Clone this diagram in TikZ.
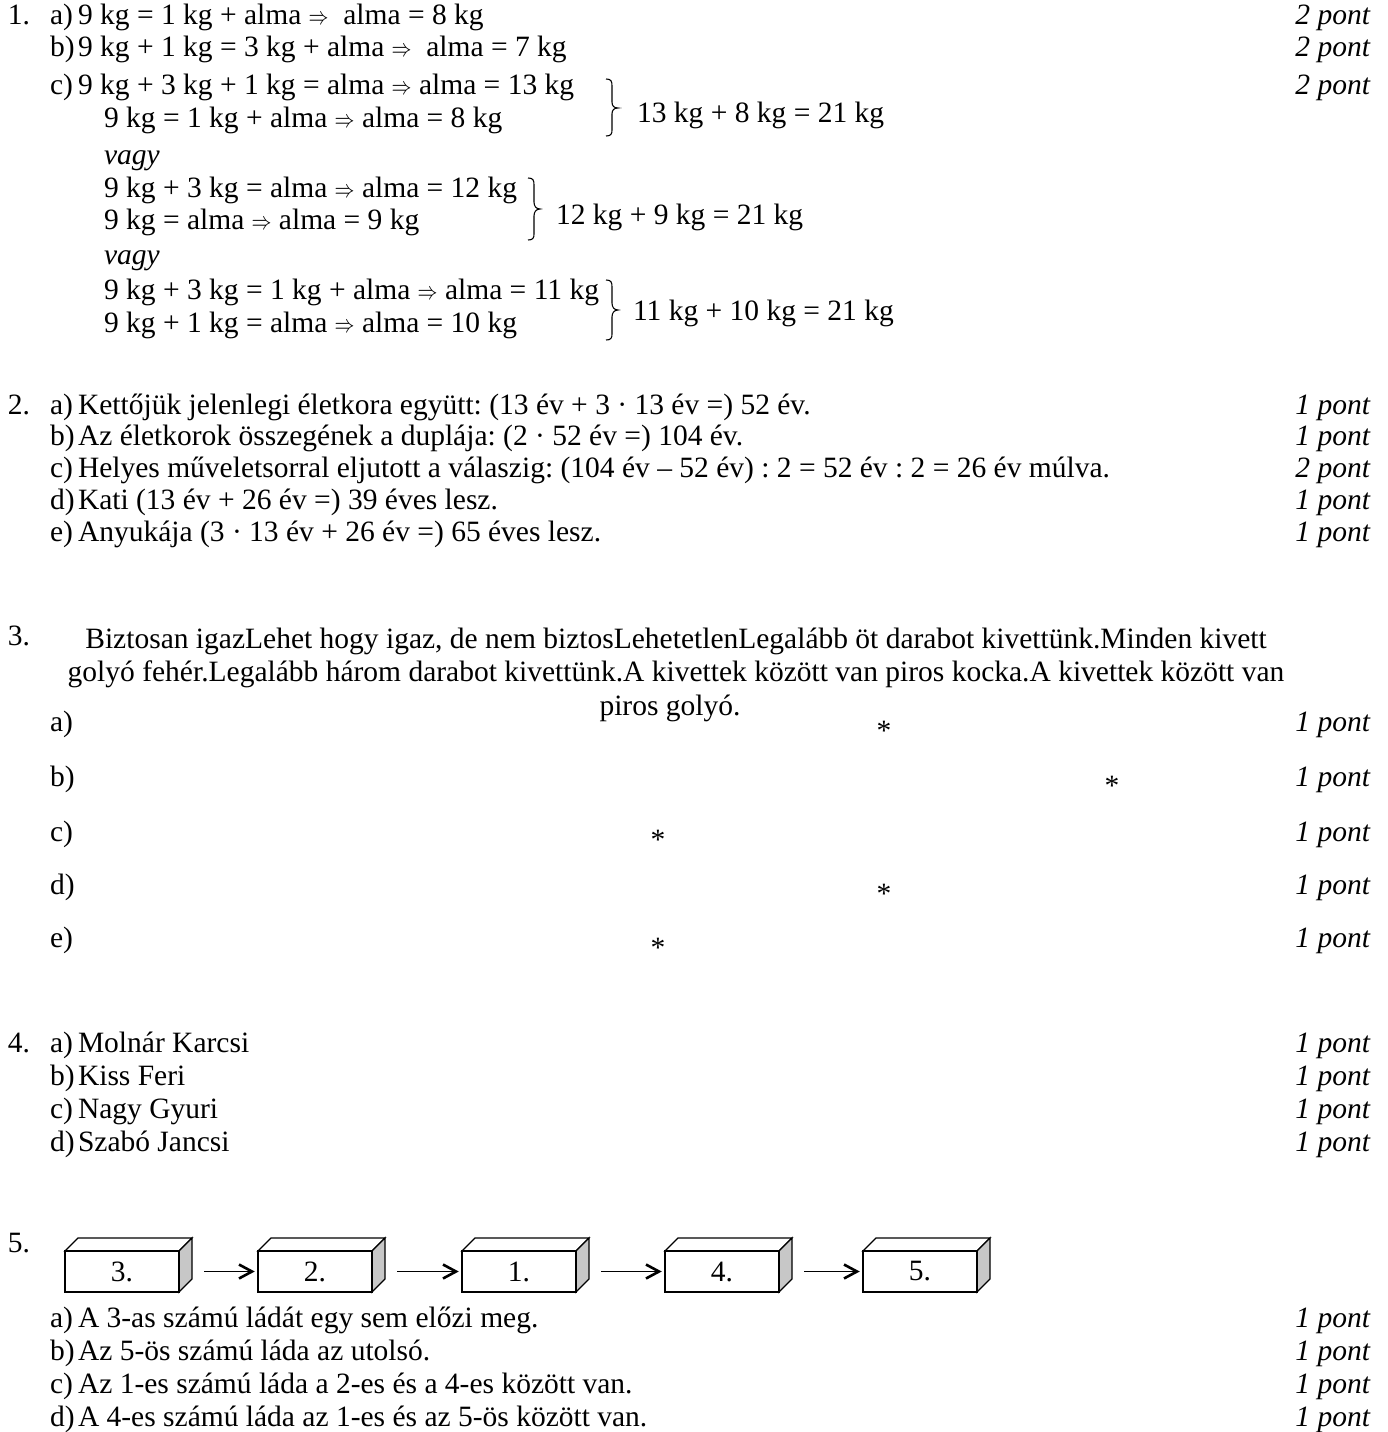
\documentclass[tikz,border=0pt]{standalone}
\usepackage{graphicx}
\usepackage{fontspec}
\setmainfont{Liberation Serif}
\frenchspacing
\begin{document}
\begin{tikzpicture}[x=1pt,y=-1pt,
  every node/.style={inner sep=0pt,outer sep=0pt,font=\fontsize{29.5}{34}\selectfont\frenchspacing},
  tx/.style={anchor=base west},
  ctx/.style={anchor=base},
  pt/.style={anchor=base east,font=\fontsize{29.5}{34}\selectfont\itshape},
  brc/.style={line width=1.1pt},
  boxfront/.style={draw,line width=1.3pt,fill=white},
  boxside/.style={draw,line width=1.3pt,fill=black!22},
  arr/.style={line width=1.3pt},
  arrhead/.style={line width=2.6pt,line join=miter,line cap=butt}
]
\useasboundingbox (0,0) rectangle (1388,1432);
\newcommand{\ra}{\scalebox{0.8}[1]{$\Rightarrow$}}
% ---------- 1 ----------
\node[tx] (n1) at (8,24) {1.};
\node[tx] (l1a) at (50,24) {a)};
\node[tx] (t1a) at (78,24) {9 kg = 1 kg + alma \ra\ \ alma = 8 kg};
\node[pt] (p1a) at (1370,24) {2 pont};
\node[tx] (l1b) at (50,56) {b)};
\node[tx] (t1b) at (78,56) {9 kg + 1 kg = 3 kg + alma \ra\ \ alma = 7 kg};
\node[pt] (p1b) at (1370,56) {2 pont};
\node[tx] (l1c) at (50,94) {c)};
\node[tx] (t1c) at (78,94) {9 kg + 3 kg + 1 kg = alma \ra\ alma = 13 kg};
\node[pt] (p1c) at (1370,94) {2 pont};
\node[tx] (t1c2) at (104,127) {9 kg = 1 kg + alma \ra\ alma = 8 kg};
\draw[brc] (606,79) .. controls (611,79) and (612,81) .. (612,86) -- (612,102) .. controls (612,106) and (614,108) .. (618,108) .. controls (614,108) and (612,110) .. (612,114) -- (612,130) .. controls (612,134) and (611,136) .. (606,136);
\node[tx] (s1) at (637,122) {13 kg + 8 kg = 21 kg};
\node[tx,font=\fontsize{29.5}{34}\selectfont\itshape] (v1) at (104,164) {vagy};
\node[tx] (t1d) at (104,197) {9 kg + 3 kg = alma \ra\ alma = 12 kg};
\node[tx] (t1e) at (104,229) {9 kg = alma \ra\ alma = 9 kg};
\draw[brc] (528,178) .. controls (533,178) and (534,180) .. (534,185) -- (534,202) .. controls (534,206) and (536,209) .. (540,209) .. controls (536,209) and (534,212) .. (534,216) -- (534,234) .. controls (534,238) and (533,240) .. (528,240);
\node[tx] (s2) at (556,224) {12 kg + 9 kg = 21 kg};
\node[tx,font=\fontsize{29.5}{34}\selectfont\itshape] (v2) at (104,264) {vagy};
\node[tx] (t1f) at (104,299) {9 kg + 3 kg = 1 kg + alma \ra\ alma = 11 kg};
\node[tx] (t1g) at (104,332) {9 kg + 1 kg = alma \ra\ alma = 10 kg};
\draw[brc] (606,280) .. controls (611,280) and (612,282) .. (612,287) -- (612,303) .. controls (612,307) and (614,310) .. (618,310) .. controls (614,310) and (612,313) .. (612,317) -- (612,334) .. controls (612,338) and (611,340) .. (606,340);
\node[tx] (s3) at (633,320) {11 kg + 10 kg = 21 kg};
% ---------- 2 ----------
\node[tx] (n2) at (8,414) {2.};
\node[tx] (l2a) at (50,414) {a)};
\node[tx] (t2a) at (78,414) {Kettőjük jelenlegi életkora együtt: (13 év + 3 · 13 év =) 52 év.};
\node[pt] (p2a) at (1370,414) {1 pont};
\node[tx] (l2b) at (50,445) {b)};
\node[tx] (t2b) at (78,445) {Az életkorok összegének a duplája: (2 · 52 év =) 104 év.};
\node[pt] (p2b) at (1370,445) {1 pont};
\node[tx] (l2c) at (50,477) {c)};
\node[tx] (t2c) at (78,477) {Helyes műveletsorral eljutott a válaszig: (104 év – 52 év) : 2 = 52 év : 2 = 26 év múlva.};
\node[pt] (p2c) at (1370,477) {2 pont};
\node[tx] (l2d) at (50,509) {d)};
\node[tx] (t2d) at (78,509) {Kati (13 év + 26 év =) 39 éves lesz.};
\node[pt] (p2d) at (1370,509) {1 pont};
\node[tx] (l2e) at (50,541) {e)};
\node[tx] (t2e) at (78,541) {Anyukája (3 · 13 év + 26 év =) 65 éves lesz.};
\node[pt] (p2e) at (1370,541) {1 pont};
% ---------- 3 ----------
\node[tx] (n3) at (8,645) {3.};
\node[ctx] (h1) at (676,648) {Biztosan igazLehet hogy igaz, de nem biztosLehetetlenLegalább öt darabot kivettünk.Minden kivett};
\node[ctx] (h2) at (676,681) {golyó fehér.Legalább három darabot kivettünk.A kivettek között van piros kocka.A kivettek között van};
\node[ctx] (h3) at (670,715) {piros golyó.};
\node[tx] (l3a) at (50,731) {a)};
\node[pt] (p3a) at (1370,731) {1 pont};
\node[tx] (l3b) at (50,786) {b)};
\node[pt] (p3b) at (1370,786) {1 pont};
\node[tx] (l3c) at (50,841) {c)};
\node[pt] (p3c) at (1370,841) {1 pont};
\node[tx] (l3d) at (50,894) {d)};
\node[pt] (p3d) at (1370,894) {1 pont};
\node[tx] (l3e) at (50,947) {e)};
\node[pt] (p3e) at (1370,947) {1 pont};
\node[ctx] (st3a) at (884,740) {*};
\node[ctx] (st3b) at (1112,795) {*};
\node[ctx] (st3c) at (658,849) {*};
\node[ctx] (st3d) at (884,903) {*};
\node[ctx] (st3e) at (658,957) {*};
% ---------- 4 ----------
\node[tx] (n4) at (8,1052) {4.};
\node[tx] (l4a) at (50,1052) {a)};
\node[tx] (t4a) at (78,1052) {Molnár Karcsi};
\node[pt] (p4a) at (1370,1052) {1 pont};
\node[tx] (l4b) at (50,1085) {b)};
\node[tx] (t4b) at (78,1085) {Kiss Feri};
\node[pt] (p4b) at (1370,1085) {1 pont};
\node[tx] (l4c) at (50,1118) {c)};
\node[tx] (t4c) at (78,1118) {Nagy Gyuri};
\node[pt] (p4c) at (1370,1118) {1 pont};
\node[tx] (l4d) at (50,1151) {d)};
\node[tx] (t4d) at (78,1151) {Szabó Jancsi};
\node[pt] (p4d) at (1370,1151) {1 pont};
% ---------- 5 ----------
\node[tx] (n5) at (8,1252) {5.};
\foreach \x/\lab/\nm in {65/3./bA,258/2./bB,462/1./bC,665/4./bD,863/5./bE}{
  \draw[boxfront] (\x,1251) -- (\x+13,1238) -- (\x+127,1238) -- (\x+114,1251) -- cycle;
  \draw[boxside] (\x+114,1251) -- (\x+127,1238) -- (\x+127,1279) -- (\x+114,1292) -- cycle;
  \node[boxfront,minimum width=114pt,minimum height=41pt,anchor=north west] (\nm) at (\x,1251) {\lab};
}
\foreach \a/\b in {bA/bB,bB/bC,bC/bD,bD/bE}{
  \draw[arr] ([xshift=25pt]\a.east) -- ([xshift=-6pt]\b.west);
  \draw[arrhead] ([xshift=-19pt,yshift=7pt]\b.west) -- ([xshift=-6pt]\b.west) -- ([xshift=-19pt,yshift=-7pt]\b.west);
}
\node[tx] (l5a) at (50,1327) {a)};
\node[tx] (t5a) at (78,1327) {A 3-as számú ládát egy sem előzi meg.};
\node[pt] (p5a) at (1370,1327) {1 pont};
\node[tx] (l5b) at (50,1360) {b)};
\node[tx] (t5b) at (78,1360) {Az 5-ös számú láda az utolsó.};
\node[pt] (p5b) at (1370,1360) {1 pont};
\node[tx] (l5c) at (50,1393) {c)};
\node[tx] (t5c) at (78,1393) {Az 1-es számú láda a 2-es és a 4-es között van.};
\node[pt] (p5c) at (1370,1393) {1 pont};
\node[tx] (l5d) at (50,1426) {d)};
\node[tx] (t5d) at (78,1426) {A 4-es számú láda az 1-es és az 5-ös között van.};
\node[pt] (p5d) at (1370,1426) {1 pont};
\end{tikzpicture}
\end{document}
